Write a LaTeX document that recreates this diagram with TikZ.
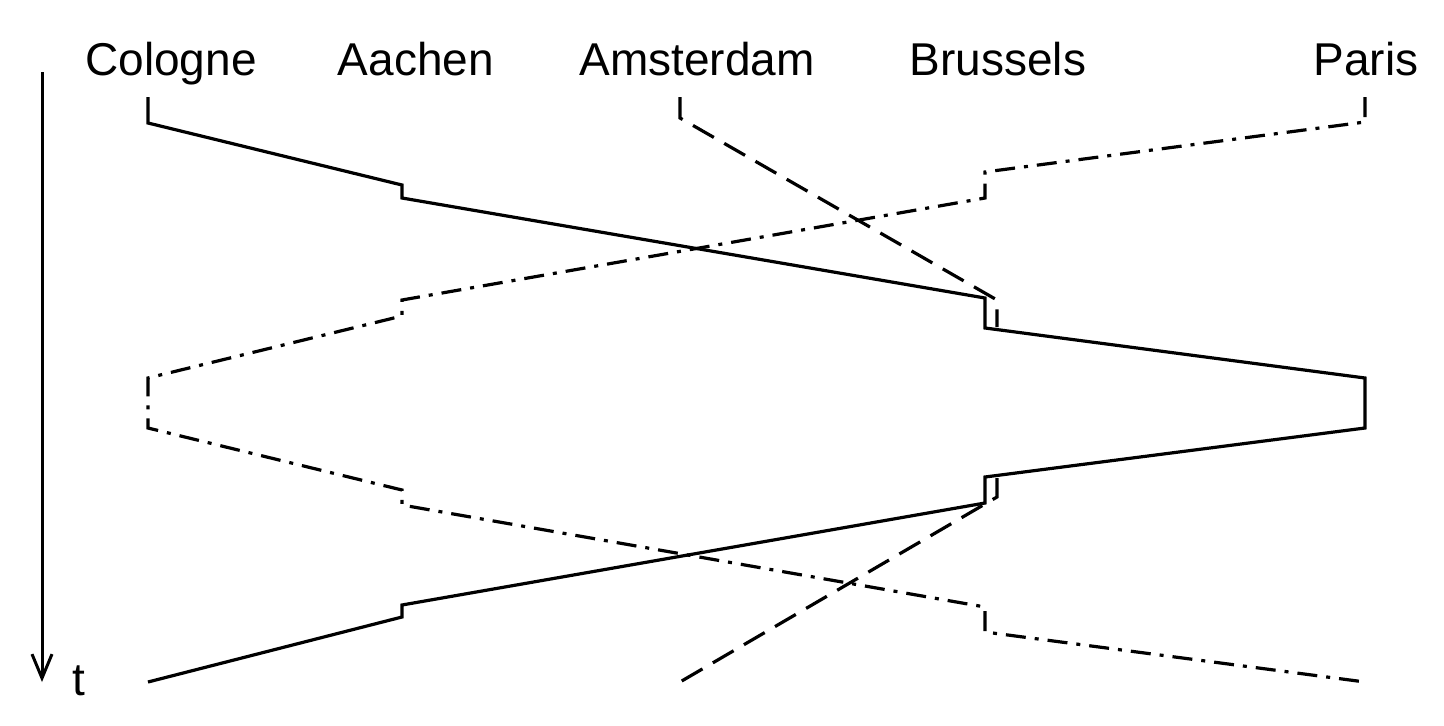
\documentclass[tikz,border=0pt]{standalone}
\usepackage{fontspec}
\setmainfont{Liberation Sans}
\usetikzlibrary{arrows.meta}
\begin{document}
\begin{tikzpicture}[x=1pt,y=-1pt,
  lbl/.style={anchor=base,inner sep=0pt,font=\fontsize{46}{50}\selectfont},
  solidln/.style={line width=3.2pt,line join=miter},
  dashln/.style={line width=3.2pt,dash pattern=on 24pt off 12pt},
  dotdashln/.style={line width=3.2pt,dash pattern=on 20pt off 9pt on 4pt off 9pt}]
\useasboundingbox (0,0) rectangle (1444,726);
\node[lbl] (cologne) at (171,75) {Cologne};
\node[lbl] (aachen) at (416,75) {Aachen};
\node[lbl] (amsterdam) at (697,75) {Amsterdam};
\node[lbl] (brussels) at (998,75) {Brussels};
\node[lbl] (paris) at (1366,75) {Paris};
\node[lbl] (t) at (79,695) {t};
\coordinate (ttop) at (42,72);
\coordinate (tbot) at (42,682);
\draw[line width=3pt,-{Straight Barb[length=24pt,width=20pt,line width=3pt]}] (ttop) -- (tbot);
% solid line
\draw[solidln] (148,97) -- (148,123) -- (402,185) -- (402,198) -- (985,298) -- (985,328)
  -- (1365,378) -- (1365,428) -- (985,477) -- (985,503) -- (402,605) -- (402,617) -- (148,682);
% dashed line
\draw[dashln] (680,97) -- (680,118) -- (997,300) -- (997,327);
\draw[dashln] (997,478) -- (997,497) -- (680,682);
% dash-dot line
\draw[dotdashln] (1365,97) -- (1365,122) -- (985,172) -- (985,198) -- (402,300) -- (402,316)
  -- (148,378) -- (148,428) -- (402,490) -- (402,505) -- (985,607) -- (985,632) -- (1365,682);
\end{tikzpicture}
\end{document}
